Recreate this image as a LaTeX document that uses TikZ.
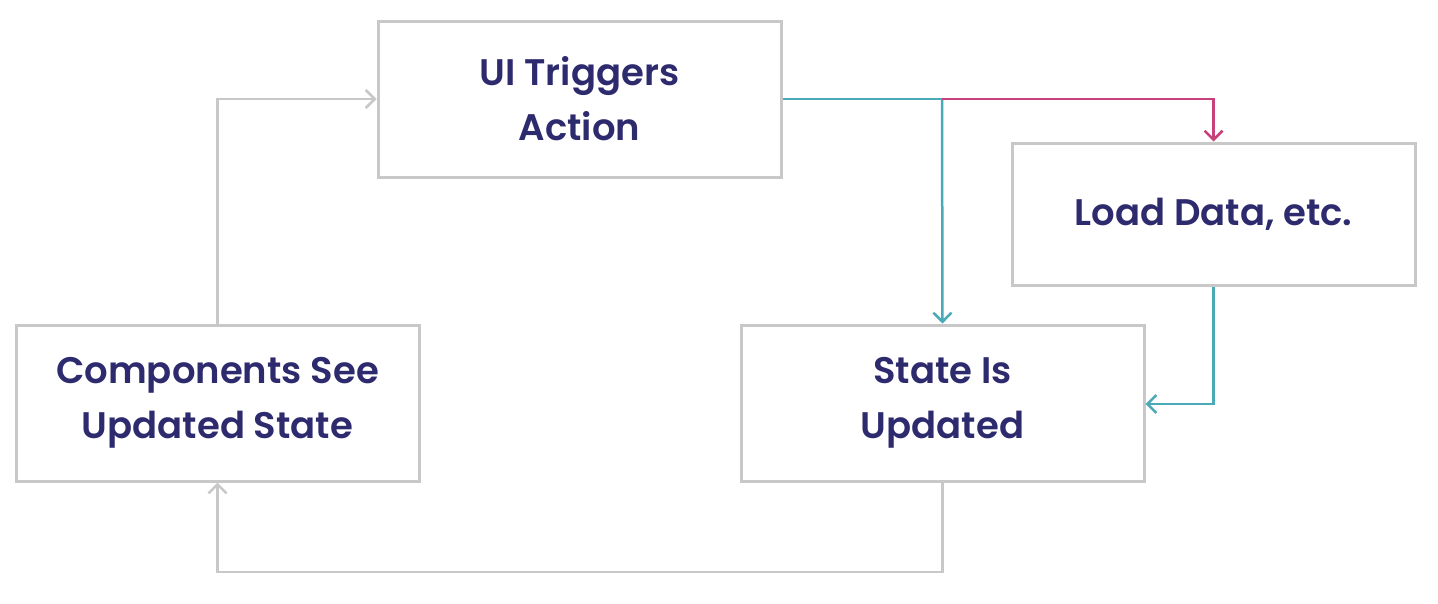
\documentclass[tikz,border=0pt]{standalone}
\usepackage{fontspec}
\setmainfont{Poppins}[BoldFont={Poppins SemiBold}]
\usetikzlibrary{arrows.meta}
\definecolor{boxgray}{HTML}{C8C8C8}
\definecolor{navy}{HTML}{2E2A6E}
\definecolor{teal}{HTML}{4AAAB8}
\definecolor{pink}{HTML}{C8417A}
\begin{document}
\begin{tikzpicture}[x=1pt,y=-1pt,
  box/.style={draw=boxgray, line width=3pt, minimum width=403pt, minimum height=156pt, inner sep=0pt,
    text=navy, font=\fontsize{37}{55}\selectfont\bfseries, align=center},
  conn/.style={line width=2.5pt, line join=miter, -{Straight Barb[length=9pt,width=18pt,line width=2.5pt]}},
  plain/.style={line width=2.5pt}]
\useasboundingbox (0,0) rectangle (1438,603);
\fill[white] (0,0) rectangle (1438,603);
\node[box] (ui) at (579.5,99) {UI Triggers\\Action};
\node[box, minimum height=142pt] (load) at (1213.5,214) {Load Data, etc.};
\node[box] (state) at (942.5,403) {State Is\\Updated};
\node[box] (comp) at (217.5,403) {Components See\\Updated State};
\coordinate (split) at (942,99);
\draw[conn, boxgray] (comp.north) -- (217.5,99) -- (ui.west);
\draw[conn, boxgray] (state.south) -- (942.5,572) -- (217.5,572) -- (comp.south);
\draw[plain, teal] (ui.east) -- (split);
\draw[conn, teal] (split) -- (state.north);
\draw[conn, pink] (split) -- (1213.5,99) -- (load.north);
\draw[conn, teal] (load.south) -- (1213.5,404) -- (state.east |- 0,404);
\end{tikzpicture}
\end{document}
